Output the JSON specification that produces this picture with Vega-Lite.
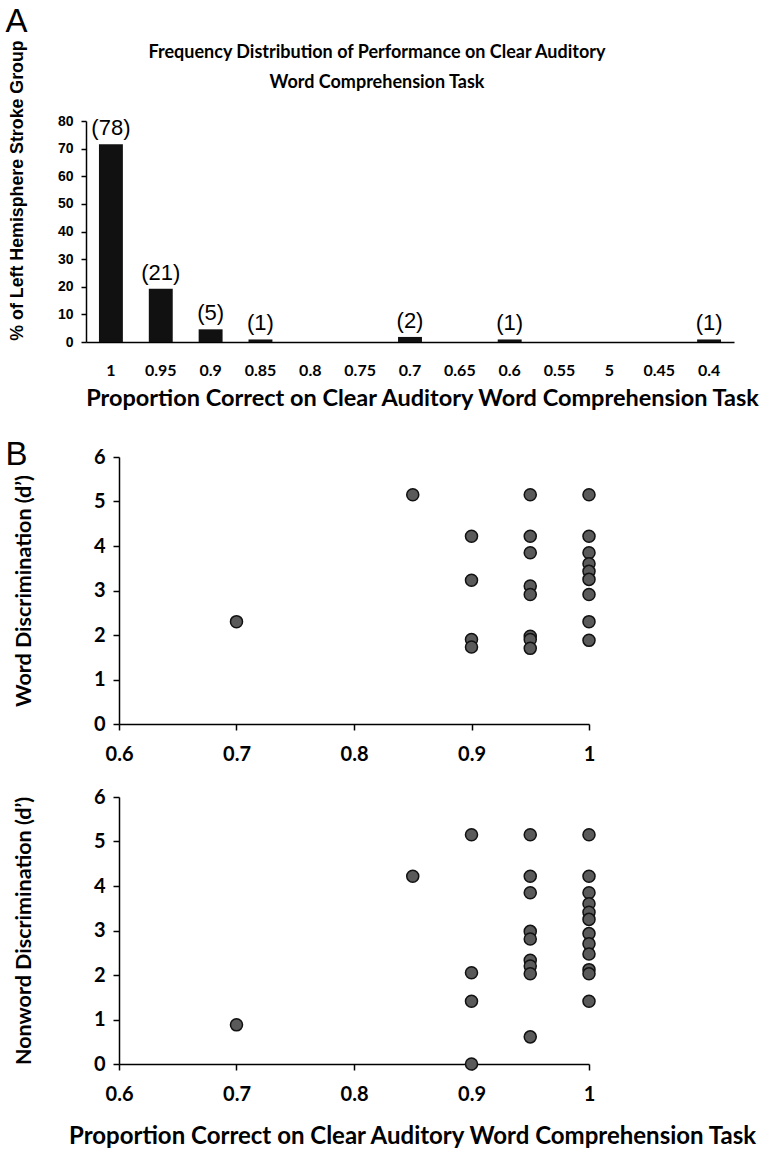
{
  "$schema": "https://vega.github.io/schema/vega-lite/v6.json",
  "padding": 5,
  "background": "white",
  "title": {"text": "A", "anchor": "start", "frame": "bounds", "font": "Liberation Sans", "fontSize": 33, "fontWeight": "normal", "offset": 1, "color": "#000"},
  "config": {
    "view": {"stroke": null},
    "axis": {"grid": false, "domainColor": "#000", "tickColor": "#000", "labelColor": "#000", "titleColor": "#000", "domainWidth": 1.5, "tickWidth": 1.5}
  },
  "datasets": {
    "freq": [
      {"pc": "1", "n": 78, "pct": 71.56, "label": "(78)"},
      {"pc": "0.95", "n": 21, "pct": 19.27, "label": "(21)"},
      {"pc": "0.9", "n": 5, "pct": 4.59, "label": "(5)"},
      {"pc": "0.85", "n": 1, "pct": 0.92, "label": "(1)"},
      {"pc": "0.8", "n": 0, "pct": 0, "label": ""},
      {"pc": "0.75", "n": 0, "pct": 0, "label": ""},
      {"pc": "0.7", "n": 2, "pct": 1.83, "label": "(2)"},
      {"pc": "0.65", "n": 0, "pct": 0, "label": ""},
      {"pc": "0.6", "n": 1, "pct": 0.92, "label": "(1)"},
      {"pc": "0.55", "n": 0, "pct": 0, "label": ""},
      {"pc": "5", "n": 0, "pct": 0, "label": ""},
      {"pc": "0.45", "n": 0, "pct": 0, "label": ""},
      {"pc": "0.4", "n": 1, "pct": 0.92, "label": "(1)"}
    ],
    "word": [
      {"pc": 0.7, "d": 2.30},
      {"pc": 0.85, "d": 5.15},
      {"pc": 0.9, "d": 4.22}, {"pc": 0.9, "d": 3.23}, {"pc": 0.9, "d": 1.90}, {"pc": 0.9, "d": 1.73},
      {"pc": 0.95, "d": 5.15}, {"pc": 0.95, "d": 4.22}, {"pc": 0.95, "d": 3.85}, {"pc": 0.95, "d": 3.10}, {"pc": 0.95, "d": 2.91}, {"pc": 0.95, "d": 1.97}, {"pc": 0.95, "d": 1.90}, {"pc": 0.95, "d": 1.70},
      {"pc": 1, "d": 5.15}, {"pc": 1, "d": 4.22}, {"pc": 1, "d": 3.85}, {"pc": 1, "d": 3.60}, {"pc": 1, "d": 3.43}, {"pc": 1, "d": 3.25}, {"pc": 1, "d": 2.91}, {"pc": 1, "d": 2.30}, {"pc": 1, "d": 1.88}
    ],
    "nonword": [
      {"pc": 0.7, "d": 0.88},
      {"pc": 0.85, "d": 4.22},
      {"pc": 0.9, "d": 5.15}, {"pc": 0.9, "d": 2.05}, {"pc": 0.9, "d": 1.41}, {"pc": 0.9, "d": 0.0},
      {"pc": 0.95, "d": 5.15}, {"pc": 0.95, "d": 4.22}, {"pc": 0.95, "d": 3.85}, {"pc": 0.95, "d": 2.98}, {"pc": 0.95, "d": 2.81}, {"pc": 0.95, "d": 2.33}, {"pc": 0.95, "d": 2.20}, {"pc": 0.95, "d": 2.03}, {"pc": 0.95, "d": 0.61},
      {"pc": 1, "d": 5.15}, {"pc": 1, "d": 4.22}, {"pc": 1, "d": 3.85}, {"pc": 1, "d": 3.60}, {"pc": 1, "d": 3.41}, {"pc": 1, "d": 3.25}, {"pc": 1, "d": 2.93}, {"pc": 1, "d": 2.70}, {"pc": 1, "d": 2.47}, {"pc": 1, "d": 2.12}, {"pc": 1, "d": 2.03}, {"pc": 1, "d": 1.41}
    ]
  },
  "columns": 1,
  "align": "none",
  "spacing": 29,
  "concat": [
    {
      "title": {"text": ["Frequency Distribution of Performance on Clear Auditory", "Word Comprehension Task"], "font": "Lato", "fontSize": 18, "fontWeight": "bold", "lineHeight": 30, "anchor": "middle", "frame": "group", "dx": -49.5, "offset": -52, "color": "#000"},
      "width": 615,
      "height": 221,
      "data": {"name": "freq"},
      "encoding": {
        "x": {"field": "pc", "type": "nominal", "sort": null,
          "scale": {"domain": ["1", "0.95", "0.9", "0.85", "0.8", "0.75", "0.7", "0.65", "0.6", "0.55", "5", "0.45", "0.4"], "range": [-33, 615], "paddingInner": 0.52, "paddingOuter": 0.26},
          "axis": {"title": "Proportion Correct on Clear Auditory Word Comprehension Task", "titleFont": "Lato", "titleFontSize": 23.5, "titleFontWeight": "bold", "titlePadding": 8, "titleX": 303, "labelFont": "Lato", "labelFontSize": 16, "labelFontWeight": "bold", "labelAngle": 0, "ticks": false, "labelPadding": 20}},
        "y": {"field": "pct", "type": "quantitative",
          "scale": {"domain": [0, 80]},
          "axis": {"title": "% of Left Hemisphere Stroke Group", "offset": 33, "values": [0, 10, 20, 30, 40, 50, 60, 70, 80], "titleFont": "Liberation Sans", "titleFontSize": 17.8, "titleFontWeight": "bold", "titlePadding": 31, "titleY": 69, "labelFont": "Liberation Sans", "labelFontSize": 14, "labelFontWeight": "bold", "tickSize": 5, "labelPadding": 8}}
      },
      "layer": [
        {"mark": {"type": "bar", "color": "#111111"}},
        {"transform": [{"filter": "datum.n > 0"}],
         "mark": {"type": "text", "baseline": "bottom", "dy": -4, "font": "Liberation Sans", "fontSize": 22, "color": "#000"},
         "encoding": {"text": {"field": "label"}}}
      ]
    },
    {
      "title": {"text": "B", "anchor": "start", "font": "Liberation Sans", "fontSize": 33, "fontWeight": "normal", "dx": -8, "dy": 51, "offset": 0, "baseline": "alphabetic", "color": "#000"},
      "spacing": 23,
      "vconcat": [
        {
          "width": 470,
          "height": 267,
          "data": {"name": "word"},
          "mark": {"type": "point", "shape": "circle", "filled": true, "fill": "#5a5a5a", "stroke": "#111111", "strokeWidth": 1.5, "size": 145, "opacity": 1},
          "encoding": {
            "x": {"field": "pc", "type": "quantitative", "scale": {"domain": [0.6, 1], "nice": false, "zero": false},
              "axis": {"title": null, "values": [0.6, 0.7, 0.8, 0.9, 1], "format": "~g", "labelFlush": false, "labelFont": "Lato", "labelFontSize": 20, "labelFontWeight": "bold", "tickSize": 6, "labelPadding": 14}},
            "y": {"field": "d", "type": "quantitative", "scale": {"domain": [0, 6], "nice": false},
              "axis": {"title": "Word Discrimination (d’)", "values": [0, 1, 2, 3, 4, 5, 6], "titleFont": "Lato", "titleFontSize": 21.5, "titleFontWeight": "bold", "titlePadding": 58, "labelFont": "Lato", "labelFontSize": 20, "labelFontWeight": "bold", "tickSize": 6, "labelPadding": 8}}
          }
        },
        {
          "width": 470,
          "height": 267,
          "data": {"name": "nonword"},
          "mark": {"type": "point", "shape": "circle", "filled": true, "fill": "#5a5a5a", "stroke": "#111111", "strokeWidth": 1.5, "size": 145, "opacity": 1},
          "encoding": {
            "x": {"field": "pc", "type": "quantitative", "scale": {"domain": [0.6, 1], "nice": false, "zero": false},
              "axis": {"title": "Proportion Correct on Clear Auditory Word Comprehension Task", "titleFont": "Lato", "titleFontSize": 24, "titleFontWeight": "bold", "titlePadding": 20, "titleX": 293, "values": [0.6, 0.7, 0.8, 0.9, 1], "format": "~g", "labelFlush": false, "labelFont": "Lato", "labelFontSize": 20, "labelFontWeight": "bold", "tickSize": 6, "labelPadding": 14}},
            "y": {"field": "d", "type": "quantitative", "scale": {"domain": [0, 6], "nice": false},
              "axis": {"title": "Nonword Discrimination (d’)", "values": [0, 1, 2, 3, 4, 5, 6], "titleFont": "Lato", "titleFontSize": 21.5, "titleFontWeight": "bold", "titlePadding": 58, "labelFont": "Lato", "labelFontSize": 20, "labelFontWeight": "bold", "tickSize": 6, "labelPadding": 8}}
          }
        }
      ]
    }
  ]
}
